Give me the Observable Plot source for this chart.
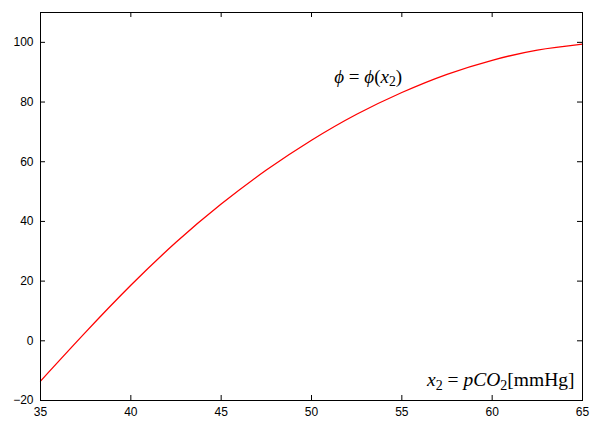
<!DOCTYPE html>
<html>
<head>
<meta charset="utf-8">
<script src="https://cdn.jsdelivr.net/npm/d3@7"></script>
<script src="https://cdn.jsdelivr.net/npm/@observablehq/plot@0.6"></script>
<style>
  html, body { margin: 0; padding: 0; background: #fff; }
  #chart { width: 600px; height: 436px; }
</style>
</head>
<body>
<div id="chart"></div>
<script>
// Data
const pco2 = [35, 37.5, 40, 42.5, 45, 47.5, 50, 52.5, 55, 57.5, 60, 62.5, 65];
const phi  = [-13.5, 2.9, 18.6, 33.0, 45.8, 57.2, 67.2, 75.9, 83.2, 89.3, 94.0, 97.4, 99.4];
const xTicks = [35, 40, 45, 50, 55, 60, 65];
const yTicks = [-20, 0, 20, 40, 60, 80, 100];
const curveLabel = [["ϕ", "i"], [" = ", ""], ["ϕ", "i"], ["(", ""], ["x", "i"], ["2", "sub"], [")", ""]];
const axisLabel = [["x", "i"], ["2", "sub"], [" = ", ""], ["pCO", "i"], ["2", "sub"], ["[mmHg]", ""]];

const W = 600, H = 436;
const mL = 40, mR = 18, mT = 12, mB = 36;
const fw = W - mL - mR, fh = H - mT - mB;
const tickLen = 5;

const data = pco2.map((x, i) => ({x, y: phi[i]}));
const joinText = segs => segs.map(s => s[0]).join("");
const serif = "'Liberation Serif', 'Times New Roman', 'DejaVu Serif', serif";

const plot = Plot.plot({
  width: W,
  height: H,
  marginLeft: mL,
  marginRight: mR,
  marginTop: mT,
  marginBottom: mB,
  style: {fontFamily: "'Liberation Sans', Arial, Helvetica, sans-serif", fontSize: "12px", color: "#000", background: "#fff"},
  x: {domain: [35, 65]},
  y: {domain: [-20, 110]},
  marks: [
    Plot.axisX(xTicks, {tickSize: 0, tickPadding: 7, label: null, fontSize: 12}),
    Plot.axisY(yTicks, {tickSize: 0, tickPadding: 7, label: null, fontSize: 12}),
    // inward ticks, mirrored on all sides
    Plot.tickX(xTicks, {x: d => d, insetTop: fh - tickLen, stroke: "#000"}),
    Plot.tickX(xTicks, {x: d => d, insetBottom: fh - tickLen, stroke: "#000"}),
    Plot.tickY(yTicks, {y: d => d, insetRight: fw - tickLen, stroke: "#000"}),
    Plot.tickY(yTicks, {y: d => d, insetLeft: fw - tickLen, stroke: "#000"}),
    Plot.line(data, {x: "x", y: "y", stroke: "#ff0000", strokeWidth: 1.3, curve: "natural"}),
    Plot.text([joinText(curveLabel)], {x: () => 51.26, y: () => 86.5, text: d => d,
      textAnchor: "start", lineAnchor: "bottom", fontSize: 19,
      fontFamily: serif, fill: "#000", className: "lbl-curve"}),
    Plot.text([joinText(axisLabel)], {frameAnchor: "bottom-right", text: d => d, dx: -8, dy: -15,
      textAnchor: "end", lineAnchor: "bottom", fontSize: 19.5,
      fontFamily: serif, fill: "#000", className: "lbl-axis"}),
    Plot.frame({stroke: "#000", strokeWidth: 1})
  ]
});

document.getElementById("chart").appendChild(plot);

// Rebuild the labels with italic parts and subscripts
function richify(cls, segs) {
  const t = d3.select(plot).select("g." + cls + " text");
  if (t.empty()) return;
  t.text(null);
  segs.forEach(([s, kind]) => {
    const ts = t.append("tspan").text(s);
    if (kind === "i") ts.attr("font-style", "italic");
    if (kind === "sub") ts.attr("font-size", "0.72em").attr("baseline-shift", "-0.25em");
  });
}
richify("lbl-curve", curveLabel);
richify("lbl-axis", axisLabel);
</script>
</body>
</html>
